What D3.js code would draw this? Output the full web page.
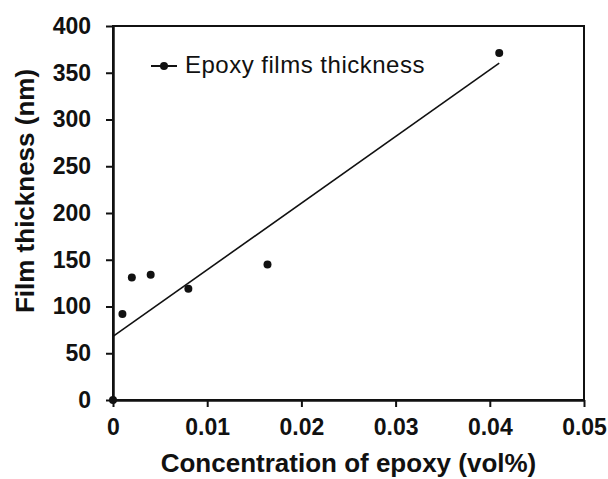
<!DOCTYPE html>
<html>
<head>
<meta charset="utf-8">
<script src="https://cdn.jsdelivr.net/npm/d3@7"></script>
<style>
  body { margin: 0; background: #fff; }
  svg { display: block; font-family: Arial, "Liberation Sans", sans-serif; }
</style>
</head>
<body>
<svg id="chart"></svg>
<script>
// data
const concentration = [0, 0.001, 0.002, 0.004, 0.008, 0.0164, 0.041];
const thickness = [0, 92, 131, 134, 119, 145, 371];
const xTicks = [0, 0.01, 0.02, 0.03, 0.04, 0.05];
const yTicks = [0, 50, 100, 150, 200, 250, 300, 350, 400];
const seriesName = 'Epoxy films thickness';

const width = 608;
const height = 479;
const margin = { left: 113, right: 24, top: 26, bottom: 79 };

const svg = d3.select('svg#chart').attr('width', width).attr('height', height);
const g = svg.append('g').attr('transform', 'translate(' + margin.left + ',' + margin.top + ')');

const w = width - margin.left - margin.right;
const h = height - margin.top - margin.bottom;

const x = d3.scaleLinear().domain([0, 0.05]).range([0, w]);
const y = d3.scaleLinear().domain([0, 400]).range([h, 0]);

// frame (top and right)
g.append('rect')
  .attr('x', 0).attr('y', 0)
  .attr('width', w).attr('height', h)
  .attr('fill', 'none')
  .attr('stroke', '#111')
  .attr('stroke-width', 2);

const fmtX = d => d === 0 ? '0' : d3.format('.2f')(d);

const xAxis = g.append('g')
  .attr('transform', 'translate(0,' + h + ')')
  .call(d3.axisBottom(x).tickValues(xTicks).tickFormat(fmtX).tickSize(7).tickSizeOuter(0).tickPadding(12));

const yAxis = g.append('g')
  .call(d3.axisLeft(y).tickValues(yTicks).tickSize(7).tickSizeOuter(0).tickPadding(15));

[xAxis, yAxis].forEach(a => {
  a.select('.domain').attr('stroke', '#111').attr('stroke-width', 2.5);
  a.selectAll('.tick line').attr('stroke', '#111').attr('stroke-width', 2);
  a.selectAll('.tick text')
    .attr('fill', '#111')
    .style('font-size', '23px')
    .style('font-weight', 'bold')
    .style('font-family', 'Arial, "Liberation Sans", sans-serif');
});

// linear trendline (least squares)
const pts = concentration.map((c, i) => ({ c: c, t: thickness[i] }));
const mx = d3.mean(concentration), my = d3.mean(thickness);
const slope = d3.sum(pts, p => (p.c - mx) * (p.t - my)) / d3.sum(pts, p => (p.c - mx) * (p.c - mx));
const intercept = my - slope * mx;
const xMax = d3.max(concentration);

g.append('line')
  .attr('x1', x(0)).attr('y1', y(intercept))
  .attr('x2', x(xMax)).attr('y2', y(intercept + slope * xMax))
  .attr('stroke', '#111')
  .attr('stroke-width', 1.6);

g.selectAll('circle.pt')
  .data(pts)
  .join('circle')
  .attr('class', 'pt')
  .attr('cx', d => x(d.c))
  .attr('cy', d => y(d.t))
  .attr('r', 4)
  .attr('fill', '#111');

// legend
const lg = g.append('g').attr('transform', 'translate(38,40)');
lg.append('line').attr('x1', 0).attr('x2', 26).attr('y1', 0).attr('y2', 0)
  .attr('stroke', '#111').attr('stroke-width', 2);
lg.append('circle').attr('cx', 13).attr('cy', 0).attr('r', 4).attr('fill', '#111');
lg.append('text')
  .attr('x', 34).attr('y', 7)
  .attr('fill', '#111')
  .style('font-size', '24px')
  .style('letter-spacing', '0.5px')
  .text(seriesName);

// axis titles
svg.append('text')
  .attr('x', margin.left + w / 2)
  .attr('y', 472)
  .attr('text-anchor', 'middle')
  .attr('fill', '#111')
  .style('font-size', '26px')
  .style('font-weight', 'bold')
  .text('Concentration of epoxy (vol%)');

svg.append('text')
  .attr('transform', 'translate(34,191) rotate(-90)')
  .attr('text-anchor', 'middle')
  .attr('fill', '#111')
  .style('font-size', '26px')
  .style('font-weight', 'bold')
  .text('Film thickness (nm)');
</script>
</body>
</html>
